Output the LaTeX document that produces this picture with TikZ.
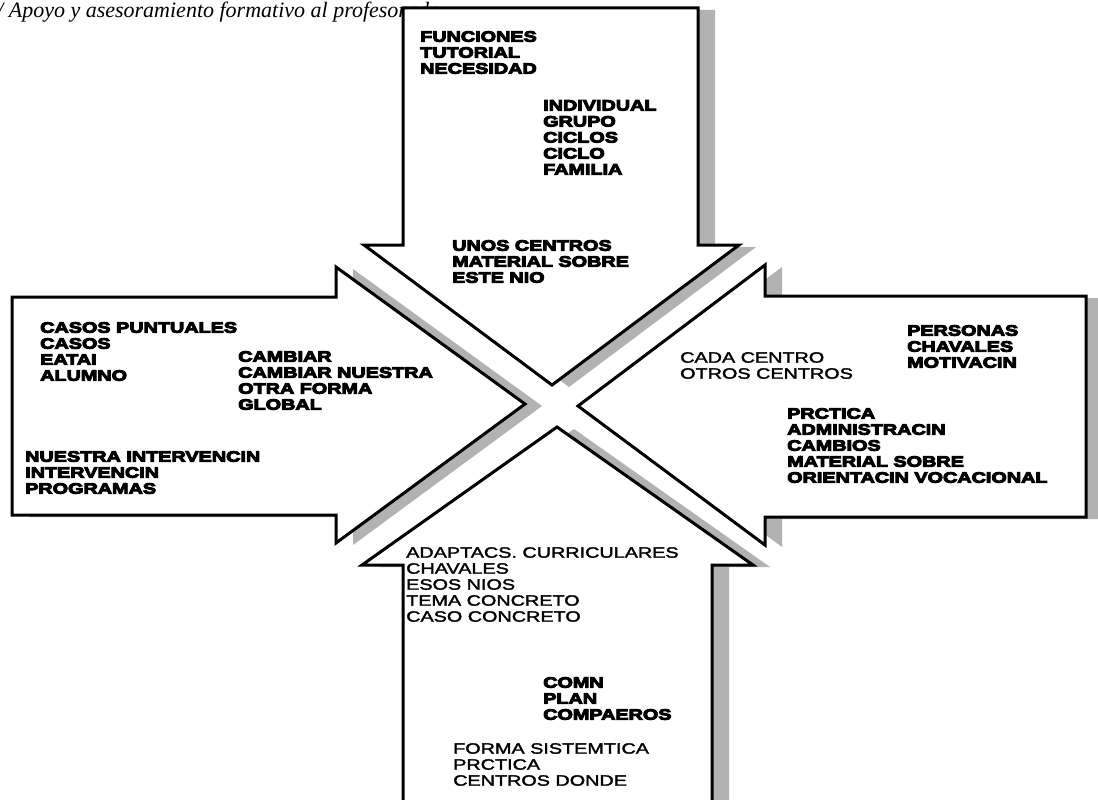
\documentclass[tikz,border=0pt]{standalone}
\usepackage{fontspec}
\setmainfont{Liberation Serif}
\newfontfamily\lblfont[FakeStretch=1.32, UprightFeatures={FakeBold=2},
  BoldFeatures={FakeBold=6.5}]{Liberation Sans}
\usetikzlibrary{shadows}

\tikzset{
  arrowbox/.style={draw=black, line width=3pt, fill=white, line join=miter,
    drop shadow={shadow xshift=17pt, shadow yshift=-2pt, fill=black!30, opacity=1}},
  boldlbl/.style={anchor=north west, inner sep=0pt, align=left,
    font=\lblfont\bfseries\fontsize{15}{16}\selectfont},
  plainlbl/.style={boldlbl, font=\lblfont\fontsize{15}{16}\selectfont},
}

\begin{document}
\begin{tikzpicture}[x=1pt, y=-1pt]
  \useasboundingbox (0,0) rectangle (1098,800);
  \clip (0,0) rectangle (1098,800);

  \node[anchor=base west, inner sep=0pt, font=\itshape\fontsize{22}{26}\selectfont] (title) at (-3,18)
    {/ Apoyo y asesoramiento formativo al profesorado};

  % four arrows pointing at the middle
  \draw[arrowbox] (403,8) -- (698,8) -- (698,245) -- (739,245) -- (552,385)
    -- (364,245) -- (403,245) -- cycle;
  \draw[arrowbox] (12,297) -- (336,297) -- (336,267) -- (525,404) -- (336,543)
    -- (336,515) -- (12,515) -- cycle;
  \draw[arrowbox] (1086,296) -- (765,296) -- (765,265) -- (578,406) -- (765,545)
    -- (765,517) -- (1086,517) -- cycle;
  \draw[arrowbox] (403,830) -- (403,565) -- (362,565) -- (557,427) -- (753,565)
    -- (712,565) -- (712,830) -- cycle;

  % top
  \node[boldlbl] (funciones) at (420,31) {FUNCIONES\\TUTORIAL\\NECESIDAD};
  \node[boldlbl] (individual) at (543,100) {INDIVIDUAL\\GRUPO\\CICLOS\\CICLO\\FAMILIA};
  \node[boldlbl] (unos) at (452,240) {UNOS CENTROS\\MATERIAL SOBRE\\ESTE NIO};

  % left
  \node[boldlbl] (casos) at (40,322) {CASOS PUNTUALES\\CASOS\\EATAI\\ALUMNO};
  \node[boldlbl] (cambiar) at (238,351) {CAMBIAR\\CAMBIAR NUESTRA\\OTRA FORMA\\GLOBAL};
  \node[boldlbl] (nuestra) at (25,451) {NUESTRA INTERVENCIN\\INTERVENCIN\\PROGRAMAS};

  % right
  \node[plainlbl] (cada) at (680,352) {CADA CENTRO\\OTROS CENTROS};
  \node[boldlbl] (personas) at (907,325) {PERSONAS\\CHAVALES\\MOTIVACIN};
  \node[boldlbl] (practica) at (787,408) {PRCTICA\\ADMINISTRACIN\\CAMBIOS\\MATERIAL SOBRE\\ORIENTACIN VOCACIONAL};

  % bottom
  \node[plainlbl] (adaptacs) at (406,547) {ADAPTACS. CURRICULARES\\CHAVALES\\ESOS NIOS\\TEMA CONCRETO\\CASO CONCRETO};
  \node[boldlbl] (comun) at (543,677) {COMN\\PLAN\\COMPAEROS};
  \node[plainlbl] (forma) at (453,743) {FORMA SISTEMTICA\\PRCTICA\\CENTROS DONDE};
\end{tikzpicture}
\end{document}
